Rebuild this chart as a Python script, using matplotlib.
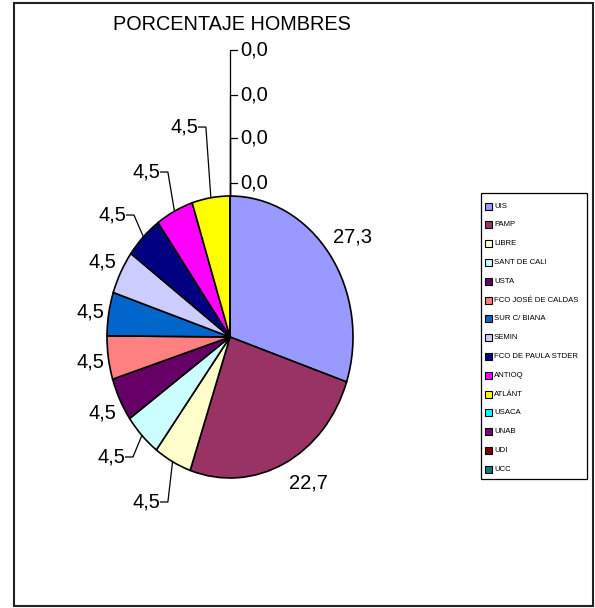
import numpy as np
import matplotlib
matplotlib.use("Agg")
import matplotlib.pyplot as plt
from matplotlib.patches import Rectangle
from matplotlib.lines import Line2D

categories = ["UIS", "PAMP", "LIBRE", "SANT DE CALI", "USTA", "FCO JOSÉ DE CALDAS",
              "SUR C/ BIANA", "SEMIN", "FCO DE PAULA STDER", "ANTIOQ", "ATLÁNT",
              "USACA", "UNAB", "UDI", "UCC"]
values = [27.3, 22.7, 4.5, 4.5, 4.5, 4.5, 4.5, 4.5, 4.5, 4.5, 4.5, 0.0, 0.0, 0.0, 0.0]
colors = ["#9999FF", "#993366", "#FFFFCC", "#CCFFFF", "#660066", "#FF8080",
          "#0066CC", "#CCCCFF", "#000080", "#FF00FF", "#FFFF00", "#00FFFF",
          "#800080", "#800000", "#008080"]
title = "PORCENTAJE HOMBRES"

# label layout (normalized ellipse coords): text anchor, optional elbow of leader line
label_pos = [(1.0, 0.71), (0.634, -1.035), (-0.683, -1.17), (-0.967, -0.851),
             (-1.04, -0.54), (-1.138, -0.177), (-1.138, 0.177), (-1.04, 0.532),
             (-0.959, 0.865), (-0.683, 1.17), (-0.374, 1.489),
             (0.081, 1.092), (0.081, 1.411), (0.081, 1.716), (0.081, 2.035)]
leader = [None, None, "L", "L", None, None, None, None, "L", "L", "L", "Z", "Z", "Z", "Z"]

W, H = 595, 608
fig = plt.figure(figsize=(W / 100, H / 100), dpi=100)
plt.rcParams['font.family'] = ['Liberation Sans', 'DejaVu Sans']

# outer frame
fig.add_artist(Rectangle((14 / W, 1 - 606 / H), (593 - 14) / W, (606 - 3) / H,
                         transform=fig.transFigure, fill=False, edgecolor="#222222", lw=1.5))

cx, cy, rx, ry = 230, 337, 123, 141
ax = fig.add_axes([(cx - rx) / W, 1 - (cy + ry) / H, 2 * rx / W, 2 * ry / H])
wedges, _ = ax.pie(values, colors=colors, startangle=90, counterclock=False,
                   radius=1.0, wedgeprops=dict(edgecolor="black", linewidth=1.2))
ax.set_aspect("auto")
ax.set_xlim(-1, 1)
ax.set_ylim(-1, 1)
ax.axis("off")

total = sum(values)
cum = 0.0
for i, v in enumerate(values):
    mid_deg = 90 - 360 * (cum + v / 2) / total
    cum += v
    tx, ty = label_pos[i]
    txt = f"{v:.1f}".replace(".", ",")
    if leader[i] == "Z":
        ax.text(tx, ty, txt, ha="left", va="center", fontsize=14.5, clip_on=False)
        ax.add_line(Line2D([0, 0, 0.057], [1.0, ty, ty], color="black", lw=0.9, clip_on=False))
    else:
        ax.text(tx, ty, txt, ha="center", va="center", fontsize=14.5, clip_on=False)
        if leader[i] == "L":
            ex, ey = np.cos(np.radians(mid_deg)), np.sin(np.radians(mid_deg))
            x_end = tx + 0.118
            x_elb = tx + 0.178
            ax.add_line(Line2D([x_end, x_elb, ex], [ty, ty, ey], color="black",
                               lw=0.9, clip_on=False))

fig.text(232 / W, 1 - 25 / H, title, ha="center", va="center", fontsize=14.3)

# legend (manual, Excel style)
lx0, ly0, lx1, ly1 = 481, 193, 587, 479
fig.add_artist(Rectangle((lx0 / W, 1 - ly1 / H), (lx1 - lx0) / W, (ly1 - ly0) / H,
                         transform=fig.transFigure, fill=False, edgecolor="black", lw=0.9))
for i, (c, name) in enumerate(zip(colors, categories)):
    yc = 206 + i * 18.8
    fig.add_artist(Rectangle((485 / W, 1 - (yc + 3.5) / H), 7 / W, 7 / H,
                             transform=fig.transFigure, facecolor=c, edgecolor="black", lw=0.8))
    fig.text(494 / W, 1 - yc / H, name, ha="left", va="center", fontsize=5.6)

fig.savefig("out.png", dpi=100)
